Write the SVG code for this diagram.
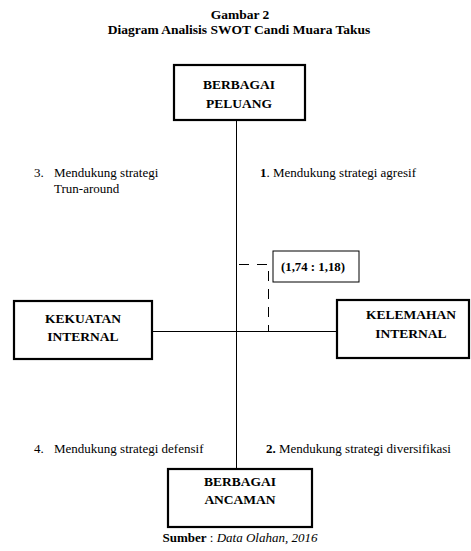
<svg xmlns="http://www.w3.org/2000/svg" width="471" height="551" viewBox="0 0 471 551" font-family="'Liberation Serif', 'DejaVu Serif', serif">
<style>
text{font-family:'Liberation Serif','DejaVu Serif',serif;fill:#000}
.t{font-size:13.5px;font-weight:bold;text-anchor:middle}
.n{font-size:13.5px;font-weight:bold;text-anchor:middle}
.l{font-size:13px}
.box{fill:#fff;stroke:#000;stroke-width:2.2}
.ln{stroke:#000;stroke-width:1;fill:none}
</style>
<rect width="471" height="551" fill="#fff"/>
<g id="title">
<text class="t" x="240" y="19">Gambar 2</text>
<text class="t" x="239" y="34">Diagram Analisis SWOT Candi Muara Takus</text>
</g>
<g id="connectors">
<line class="ln" x1="236.5" y1="120" x2="236.5" y2="469"/>
<line class="ln" x1="152" y1="331.5" x2="337" y2="331.5"/>
<path class="ln" d="M239 264.5 H268.5 V331" stroke-dasharray="10,8"/>
</g>
<g id="peluang">
<rect class="box" x="174" y="65" width="131" height="55"/>
<text class="n" x="239" y="89">BERBAGAI</text>
<text class="n" x="239" y="108">PELUANG</text>
</g>
<g id="kekuatan">
<rect class="box" x="14" y="301" width="138" height="58"/>
<text class="n" x="83" y="323">KEKUATAN</text>
<text class="n" x="83" y="341">INTERNAL</text>
</g>
<g id="kelemahan">
<rect class="box" x="337" y="300" width="132" height="58"/>
<text class="n" x="411" y="319">KELEMAHAN</text>
<text class="n" x="411" y="338">INTERNAL</text>
</g>
<g id="ancaman">
<rect class="box" x="168" y="469" width="144" height="58"/>
<text class="n" x="240" y="486">BERBAGAI</text>
<text class="n" x="240" y="504">ANCAMAN</text>
</g>
<g id="nilai">
<rect x="273" y="251" width="86" height="31" fill="#fff" stroke="#000" stroke-width="1"/>
<text x="281" y="271" style="font-size:12.8px;font-weight:bold">(1,74 : 1,18)</text>
</g>
<g id="labels">
<text class="l" x="34" y="177">3.</text>
<text class="l" x="54" y="177">Mendukung strategi</text>
<text class="l" x="54" y="193">Trun-around</text>
<text class="l" x="260" y="177"><tspan font-weight="bold">1</tspan>. Mendukung strategi agresif</text>
<text class="l" x="34" y="453">4.</text>
<text class="l" x="54" y="453">Mendukung strategi defensif</text>
<text class="l" x="266" y="453"><tspan font-weight="bold">2.</tspan> Mendukung strategi diversifikasi</text>
<text class="l" x="240" y="542" text-anchor="middle"><tspan font-weight="bold">Sumber</tspan> :  <tspan font-style="italic">Data Olahan, 2016</tspan></text>
</g>
</svg>
